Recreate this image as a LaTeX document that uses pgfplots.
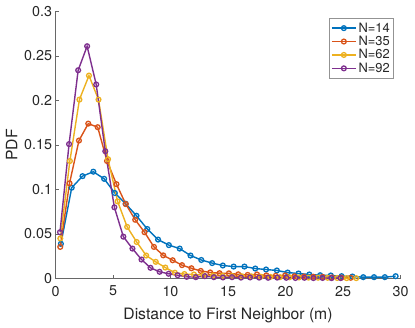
\documentclass[border=0pt]{standalone}
\usepackage{fontspec}
\setmainfont{TeX Gyre Heros}
\usepackage{pgfplots}
\usepackage{pgfplotstable}
\pgfplotsset{compat=1.18}

\definecolor{mblue}{rgb}{0,0.447,0.741}
\definecolor{morange}{rgb}{0.85,0.325,0.098}
\definecolor{myellow}{rgb}{0.929,0.694,0.125}
\definecolor{mpurple}{rgb}{0.494,0.184,0.556}
\definecolor{axgray}{rgb}{0.15,0.15,0.15}

% PDF of distance to first neighbour, one table per N
\pgfplotstableread{
x y
0.47 0.039
1.41 0.102
2.35 0.115
3.29 0.120
4.23 0.112
5.16 0.096
6.10 0.084
7.04 0.0705
7.98 0.0556
8.92 0.0437
9.86 0.0375
10.80 0.0336
11.74 0.0258
12.68 0.0208
13.62 0.0173
14.55 0.0146
15.49 0.0134
16.43 0.0134
17.37 0.0112
18.31 0.0101
19.25 0.0090
20.19 0.0067
21.13 0.0056
22.07 0.0045
23.01 0.0037
23.94 0.0034
24.88 0.0026
25.82 0.0022
26.76 0.0015
27.70 0.0015
28.64 0.0015
29.58 0.0026
}\nfourteen

\pgfplotstableread{
x y
0.41 0.0355
1.22 0.107
2.04 0.155
2.85 0.174
3.67 0.170
4.48 0.132
5.30 0.106
6.11 0.0836
6.93 0.066
7.74 0.052
8.56 0.0355
9.37 0.026
10.19 0.0205
11.00 0.015
11.82 0.0115
12.63 0.0085
13.45 0.0068
14.26 0.0060
15.08 0.0058
15.89 0.0047
16.71 0.0040
17.52 0.0045
18.34 0.0035
19.15 0.0030
19.97 0.0035
20.78 0.0025
21.60 0.0022
22.41 0.0020
23.23 0.0018
24.04 0.0012
24.86 0.0010
25.67 0.0008
}\nthirtyfive

\pgfplotstableread{
x y
0.42 0.045
1.25 0.132
2.08 0.201
2.91 0.228
3.74 0.201
4.57 0.134
5.40 0.0866
6.23 0.058
7.06 0.041
7.89 0.0258
8.72 0.0187
9.55 0.0123
10.38 0.0065
11.21 0.0050
12.04 0.0045
12.87 0.0037
13.70 0.0033
14.53 0.0030
15.36 0.0028
16.19 0.0025
17.02 0.0024
17.85 0.0020
18.68 0.0018
19.51 0.0015
20.34 0.0014
21.17 0.0012
22.00 0.0010
22.83 0.0009
23.66 0.0008
24.49 0.0006
25.32 0.0004
26.15 0.0004
}\nsixtytwo

\pgfplotstableread{
x y
0.39 0.052
1.18 0.151
1.97 0.234
2.75 0.261
3.54 0.218
4.33 0.143
5.12 0.080
5.90 0.047
6.69 0.0336
7.48 0.0213
8.26 0.0120
9.05 0.0075
9.84 0.0053
10.62 0.0037
11.41 0.0019
12.20 0.0015
12.99 0.0026
13.77 0.0015
14.56 0.0012
15.35 0.0015
16.13 0.0010
16.92 0.0012
17.71 0.0010
18.49 0.0008
19.28 0.0010
20.07 0.0008
20.86 0.0006
21.64 0.0008
22.43 0.0005
23.22 0.0006
24.00 0.0004
24.79 0.0005
}\nninetytwo

\begin{document}
\begin{tikzpicture}
\begin{axis}[
    scale only axis,
    width=345pt, height=267pt,
    xmin=0, xmax=30, ymin=0, ymax=0.3,
    xtick={0,5,...,30},
    ytick={0,0.05,0.1,0.15,0.2,0.25,0.3},
    yticklabel style={/pgf/number format/.cd, fixed, precision=2},
    /pgf/number format/assume math mode=true,
    axis lines=left,
    axis line style={-, axgray!70, line width=0.6pt},
    tick align=inside,
    major tick length=3.5pt,
    tick style={axgray!70, line width=0.6pt},
    ticklabel style={font=\fontsize{14.3}{16}\selectfont, text=axgray},
    xticklabel style={yshift=-4pt},
    label style={font=\fontsize{15.7}{18}\selectfont, text=axgray},
    xlabel={Distance to First Neighbor (m)},
    xlabel style={yshift=-5pt},
    ylabel={PDF},
    every axis plot/.append style={line width=1.4pt, mark=o, mark size=2.4pt,
        mark options={line width=1.3pt}},
    legend style={at={(0.981,0.974)}, anchor=north east,
        draw=axgray!50, line width=0.5pt, fill=white,
        font=\fontsize{12.9}{15}\selectfont, text=axgray,
        inner xsep=2pt, inner ysep=2pt, row sep=-1.5pt},
    legend cell align=left,
    legend image code/.code={
        \draw[mark repeat=2, mark phase=2]
        plot coordinates {(0cm,0cm) (0.42cm,0cm) (0.84cm,0cm)};},
]
\addplot[mblue] table {\nfourteen};
\addlegendentry{N=14}
\addplot[morange] table {\nthirtyfive};
\addlegendentry{N=35}
\addplot[myellow] table {\nsixtytwo};
\addlegendentry{N=62}
\addplot[mpurple] table {\nninetytwo};
\addlegendentry{N=92}
\end{axis}
\pgfresetboundingbox
\path (-55.5pt,-49.5pt) rectangle (359.5pt,278.5pt);
\end{tikzpicture}
\end{document}
